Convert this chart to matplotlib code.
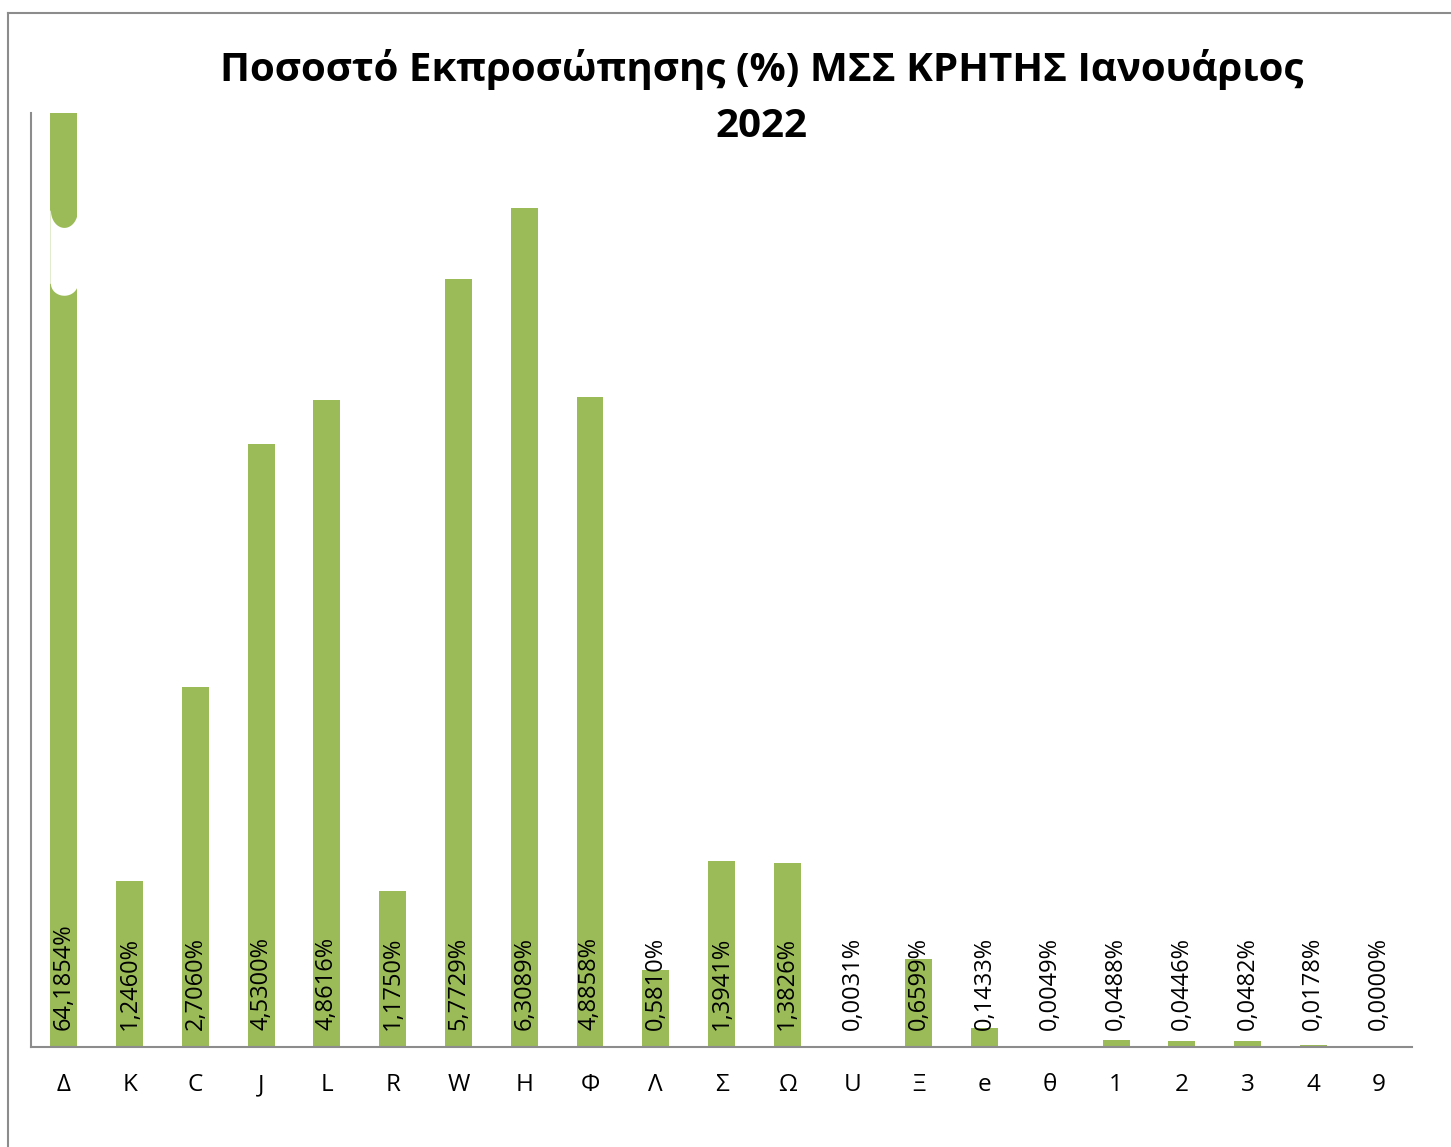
import matplotlib
matplotlib.use('Agg')
import matplotlib.pyplot as plt
import numpy as np
from matplotlib.lines import Line2D

# Data
categories = ['Δ', 'K', 'C', 'J', 'L', 'R', 'W', 'H', 'Φ', 'Λ', 'Σ', 'Ω',
              'U', 'Ξ', 'e', 'θ', '1', '2', '3', '4', '9']
values = [64.1854, 1.2460, 2.7060, 4.5300, 4.8616, 1.1750, 5.7729, 6.3089,
          4.8858, 0.5810, 1.3941, 1.3826, 0.0031, 0.6599, 0.1433, 0.0049,
          0.0488, 0.0446, 0.0482, 0.0178, 0.0000]
title = 'Ποσοστό Εκπροσώπησης (%) ΜΣΣ ΚΡΗΤΗΣ Ιανουάριος\n2022'

plt.rcParams['font.family'] = ['Open Sans', 'DejaVu Sans']

fig = plt.figure(figsize=(14.51, 11.47), dpi=100)
ax = fig.add_axes([0.0214, 0.0872, 0.9517, 0.8143])

bar_color = '#9bbb59'
bar_w = 0.41
x = list(range(len(categories)))
ax.bar(x, values, width=bar_w, color=bar_color, zorder=2)

ymax = 7.02
ax.set_ylim(0, ymax)
ax.set_xlim(-0.5, len(categories) - 0.5)

# break mark on the clipped first bar (curved white gap)
bx = np.linspace(-bar_w / 2 - 0.01, bar_w / 2 + 0.01, 60)
u = np.clip(bx / (bar_w / 2), -1, 1)
gap_top = 6.29 - 0.13 * np.sqrt(1 - u ** 2)
gap_bot = 5.74 - 0.09 * np.sqrt(1 - u ** 2)
ax.fill_between(bx, gap_bot, gap_top, color='white', lw=0, zorder=3)

# value labels
for xi, v in zip(x, values):
    lbl = f'{v:.4f}'.replace('.', ',') + '%'
    ax.text(xi, 0.13, lbl, rotation=90, ha='center', va='bottom',
            fontsize=17, color='black', zorder=4)

ax.set_xticks(x)
ax.set_xticklabels(categories, fontsize=17.5)
ax.tick_params(axis='x', length=0, pad=19)
ax.set_yticks([])

for side in ['top', 'right']:
    ax.spines[side].set_visible(False)
for side in ['left', 'bottom']:
    ax.spines[side].set_color('#8c8c8c')
    ax.spines[side].set_linewidth(1.5)

fig.text(0.525, 0.915, title, ha='center', va='center', fontsize=29,
         fontweight='bold', linespacing=1.56)

# outer frame
fig.add_artist(Line2D([8 / 1451, 8 / 1451], [0, 1 - 13 / 1147],
                      color='#8c8c8c', lw=1.5))
fig.add_artist(Line2D([8 / 1451, 1], [1 - 13 / 1147, 1 - 13 / 1147],
                      color='#8c8c8c', lw=1.5))

fig.savefig('out.png', dpi=100)
